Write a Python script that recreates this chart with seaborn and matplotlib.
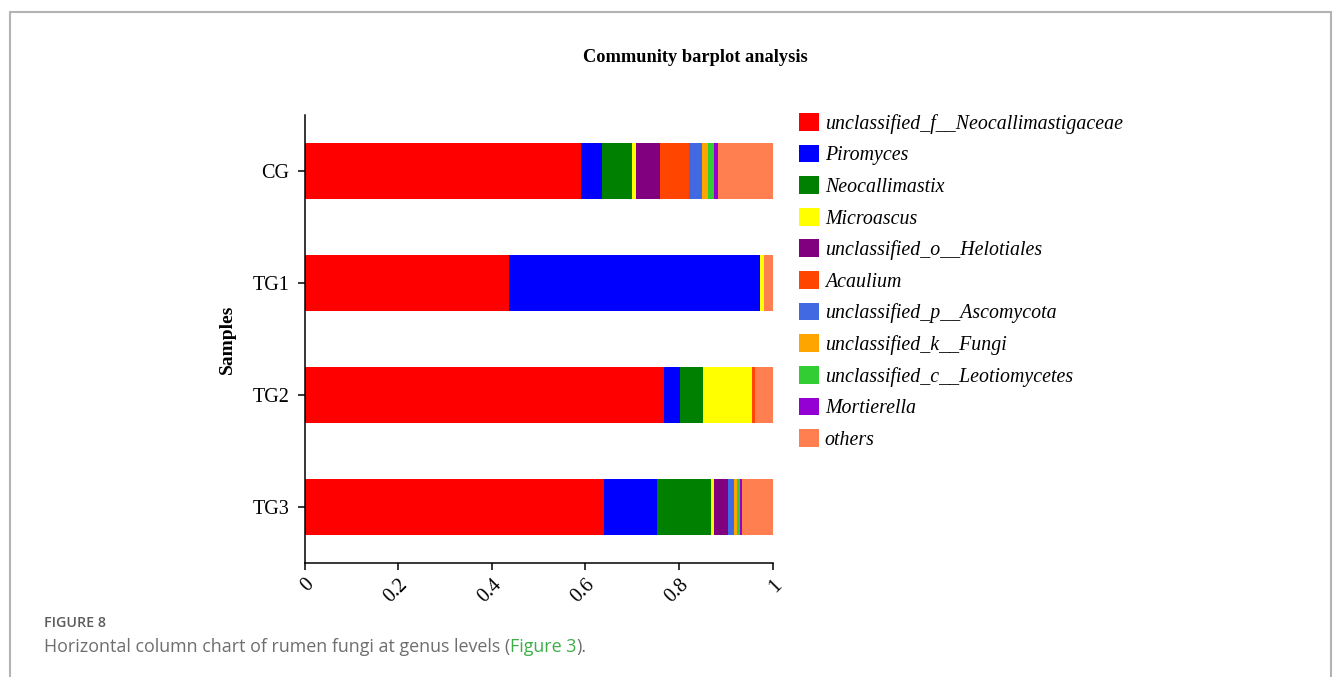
import numpy as np
import pandas as pd
import matplotlib
matplotlib.use("Agg")
import matplotlib.pyplot as plt
from matplotlib.lines import Line2D
import seaborn as sns

# Relative abundance of rumen fungal genera per sample group
samples = ["CG", "TG1", "TG2", "TG3"]
taxa = [
    "unclassified_f__Neocallimastigaceae",
    "Piromyces",
    "Neocallimastix",
    "Microascus",
    "unclassified_o__Helotiales",
    "Acaulium",
    "unclassified_p__Ascomycota",
    "unclassified_k__Fungi",
    "unclassified_c__Leotiomycetes",
    "Mortierella",
    "others",
]
neocallimastigaceae = [0.591, 0.437, 0.767, 0.639]
piromyces = [0.045, 0.535, 0.035, 0.114]
neocallimastix = [0.064, 0.000, 0.050, 0.116]
microascus = [0.007, 0.010, 0.103, 0.005]
helotiales = [0.053, 0.000, 0.000, 0.031]
acaulium = [0.062, 0.000, 0.008, 0.000]
ascomycota = [0.027, 0.000, 0.000, 0.013]
fungi = [0.013, 0.000, 0.000, 0.006]
leotiomycetes = [0.013, 0.000, 0.000, 0.006]
mortierella = [0.009, 0.000, 0.000, 0.005]
others = [0.116, 0.018, 0.037, 0.065]

colors = ["#FF0000", "#0000FF", "#008000", "#FFFF00", "#800080", "#FF4500",
          "#4169E1", "#FFA500", "#32CD32", "#9400D3", "#FF7F50"]

x_ticks = [0, 0.2, 0.4, 0.6, 0.8, 1]
x_tick_labels = ["0", "0.2", "0.4", "0.6", "0.8", "1"]

abund = pd.DataFrame(
    np.array([neocallimastigaceae, piromyces, neocallimastix, microascus,
              helotiales, acaulium, ascomycota, fungi, leotiomycetes,
              mortierella, others]).T,
    index=samples, columns=taxa,
)
cum = abund.cumsum(axis=1)

sns.set_theme(style="white")
plt.rcParams["font.family"] = ["Liberation Serif", "DejaVu Serif"]
plt.rcParams["text.color"] = "black"
plt.rcParams["axes.labelcolor"] = "black"
plt.rcParams["xtick.color"] = "black"
plt.rcParams["ytick.color"] = "black"

fig = plt.figure(figsize=(13.33, 6.77), dpi=100)
ax = fig.add_axes([304.5 / 1333, 1 - 563 / 677, 468.2 / 1333, 448 / 677])

# Stacked bars: draw cumulative totals from the outermost layer inwards
handles = {}
for taxon, color in reversed(list(zip(taxa, colors))):
    d = pd.DataFrame({"Samples": samples, "value": cum[taxon].values})
    sns.barplot(data=d, x="value", y="Samples", orient="h", color=color,
                width=0.5, saturation=1, linewidth=0, ax=ax, order=samples)
    handles[taxon] = plt.Rectangle((0, 0), 1, 1, facecolor=color, edgecolor="none")

ax.set_xlim(0, 1)
ax.set_ylim(3.5, -0.5)
for s in ["top", "right"]:
    ax.spines[s].set_visible(False)
for s in ["left", "bottom"]:
    ax.spines[s].set_color("black")
    ax.spines[s].set_linewidth(1.1)

ax.set_xticks(x_ticks)
ax.set_xticklabels(x_tick_labels, rotation=45, ha="right", va="top",
                   rotation_mode="anchor", fontsize=14.5)
ax.tick_params(axis="both", which="both", direction="out", length=5,
               width=1.1, color="black", bottom=True, left=True)
ax.tick_params(axis="y", labelsize=14.5, pad=6)
ax.tick_params(axis="x", pad=4)
ax.set_xlabel("")
ax.set_ylabel("Samples", fontsize=14, fontweight="bold", labelpad=12)

ax.legend([handles[t] for t in taxa], taxa, loc="upper left",
          bbox_to_anchor=(799 / 1333, 1 - 113 / 677),
          bbox_transform=fig.transFigure, frameon=False,
          prop={"family": ["Liberation Serif"], "style": "italic", "size": 14.3},
          handlelength=1.0, handleheight=1.0, handletextpad=0.3,
          labelspacing=0.55, borderpad=0, borderaxespad=0)

fig.text(695 / 1333, 1 - 57 / 677, "Community barplot analysis",
         ha="center", va="center", fontsize=13.2, fontweight="bold")

# Caption panel frame
frame_kw = dict(color="#b3b3b3", linewidth=1.5, transform=fig.transFigure)
fig.add_artist(Line2D([10 / 1333, 10 / 1333], [0, 1 - 11.5 / 677], **frame_kw))
fig.add_artist(Line2D([10 / 1333, 1331 / 1333], [1 - 11.5 / 677, 1 - 11.5 / 677], **frame_kw))
fig.add_artist(Line2D([1331 / 1333, 1331 / 1333], [0, 1 - 11.5 / 677], **frame_kw))

cap_font = ["Open Sans", "DejaVu Sans"]
fig.text(44 / 1333, 1 - 623 / 677, "FIGURE 8", ha="left", va="center",
         fontsize=10.3, color="#5c5c5c", family=cap_font, fontweight="semibold")
fig.canvas.draw()
renderer = fig.canvas.get_renderer()
x0 = 44
parts = [("Horizontal column chart of rumen fungi at genus levels (", "#6e6e6e"),
         ("Figure 3", "#3fae49"), (").", "#6e6e6e")]
for txt, col in parts:
    t = fig.text(x0 / 1333, 1 - 647 / 677, txt, ha="left", va="center",
                 fontsize=12.85, color=col, family=cap_font)
    bb = t.get_window_extent(renderer)
    x0 = bb.x1

fig.savefig("out.png", dpi=100)
